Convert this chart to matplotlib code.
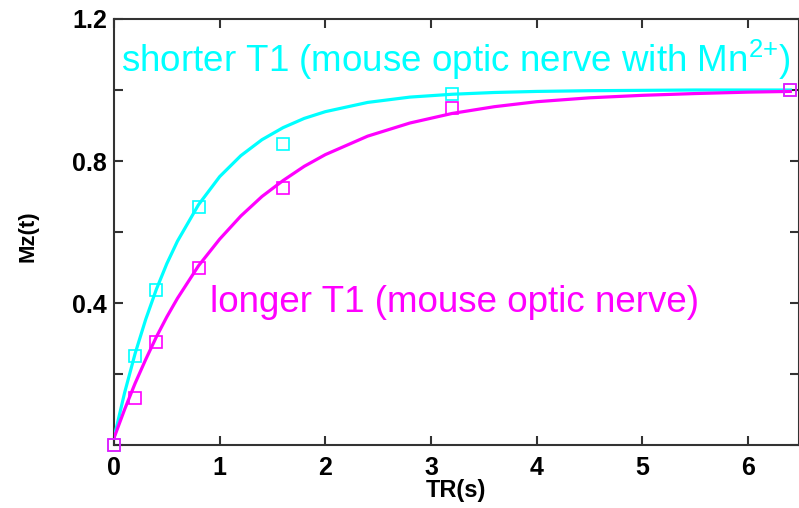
import matplotlib
matplotlib.use("Agg")
import matplotlib.pyplot as plt

# measured data points
tr_points = [0, 0.2, 0.4, 0.8, 1.6, 3.2, 6.4]
mz_short_points = [0.0, 0.25, 0.437, 0.671, 0.849, 0.989, 1.0]
mz_long_points = [0.0, 0.133, 0.289, 0.50, 0.723, 0.949, 1.0]

# fitted curves
tr_curve = [0, 0.1, 0.2, 0.3, 0.4, 0.5, 0.6, 0.8, 1.0, 1.2, 1.4, 1.6, 1.8, 2.0,
            2.4, 2.8, 3.2, 3.6, 4.0, 4.5, 5.0, 5.5, 6.0, 6.4]
mz_short_curve = [0.02, 0.147, 0.258, 0.354, 0.438, 0.511, 0.574, 0.677, 0.756,
                  0.815, 0.860, 0.894, 0.920, 0.939, 0.965, 0.980, 0.988, 0.993,
                  0.996, 0.998, 0.999, 1.0, 1.0, 1.0]
mz_long_curve = [0.02, 0.100, 0.174, 0.241, 0.304, 0.361, 0.413, 0.505, 0.580,
                 0.645, 0.700, 0.745, 0.785, 0.818, 0.870, 0.907, 0.934, 0.953,
                 0.967, 0.978, 0.985, 0.990, 0.994, 0.996]

x_ticks = [0, 1, 2, 3, 4, 5, 6]
y_ticks = [0, 0.2, 0.4, 0.6, 0.8, 1.0, 1.2]
y_tick_labels = ["", "", "0.4", "", "0.8", "", "1.2"]

CYAN = "#00ffff"
MAGENTA = "#ff00ff"

plt.rcParams['font.family'] = ['Liberation Sans', 'DejaVu Sans']
plt.rcParams['mathtext.fontset'] = 'custom'
plt.rcParams['mathtext.rm'] = 'Liberation Sans'

fig = plt.figure(figsize=(7.99, 5.08), dpi=100)
ax = fig.add_axes([0.1427, 0.124, 0.857, 0.8386])

ax.plot(tr_curve, mz_short_curve, color=CYAN, lw=2.3, zorder=3)
ax.plot(tr_curve, mz_long_curve, color=MAGENTA, lw=2.3, zorder=3)
ax.plot(tr_points, mz_short_points, ls='none', marker='s', ms=8,
        mfc='none', mec=CYAN, mew=1.2, zorder=4, clip_on=False)
ax.plot(tr_points, mz_long_points, ls='none', marker='s', ms=8,
        mfc='none', mec=MAGENTA, mew=1.2, zorder=5, clip_on=False)

ax.set_xlim(0, 6.48)
ax.set_ylim(0, 1.2)
ax.set_xticks(x_ticks)
ax.set_xticklabels([str(v) for v in x_ticks])
ax.set_yticks(y_ticks)
ax.set_yticklabels(y_tick_labels)

for s in ax.spines.values():
    s.set_linewidth(1.5)
    s.set_color('#333333')
ax.tick_params(direction='in', length=6.5, width=1.5, color='#333333',
               top=True, right=True, labelsize=18)
ax.tick_params(axis='x', pad=8)
ax.tick_params(axis='y', pad=5)
for lbl in ax.get_xticklabels() + ax.get_yticklabels():
    lbl.set_fontweight('bold')

fig.text(456 / 799, 1 - 491 / 508, "TR(s)", fontsize=17, fontweight='bold',
         ha='center', va='center')
fig.text(28 / 799, 1 - 236 / 508, "Mz(t)", fontsize=16, fontweight='bold',
         ha='center', va='center', rotation=90)

ax.text(0.07, 1.05, r"shorter T1 (mouse optic nerve with Mn$\mathregular{^{2{+}}}$)",
        color=CYAN, fontsize=26.5, ha='left', va='baseline')
ax.text(0.91, 0.375, "longer T1 (mouse optic nerve)",
        color=MAGENTA, fontsize=26.5, ha='left', va='baseline')

fig.savefig("out.png", dpi=100)
